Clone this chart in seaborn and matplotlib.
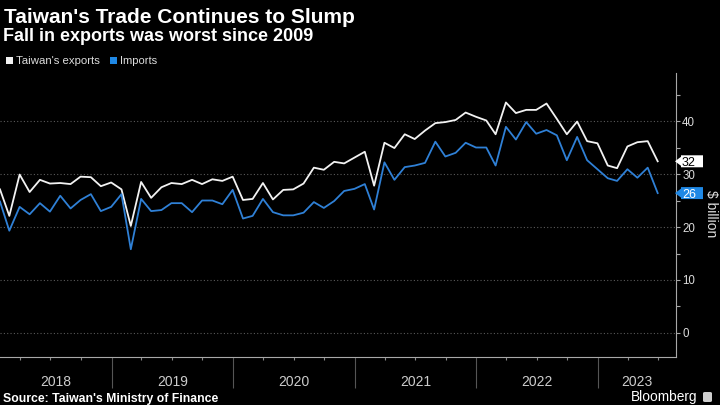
import numpy as np
import pandas as pd
import matplotlib
matplotlib.use("Agg")
import matplotlib.pyplot as plt
import matplotlib.dates as mdates
import matplotlib.transforms as mtrans
from matplotlib.patches import Polygon, Rectangle, FancyBboxPatch
import seaborn as sns

# ---------------- data (US$ billion, monthly, Jan 2018 - Jun 2023) ----------------
exports = [27.1, 22.1, 29.9, 26.6, 28.9, 28.2, 28.3, 28.1, 29.5, 29.4, 27.7, 28.4,
           27.1, 20.2, 28.5, 25.5, 27.5, 28.3, 28.1, 28.9, 28.1, 29.0, 28.7, 29.5,
           25.1, 25.3, 28.3, 25.2, 27.0, 27.1, 28.2, 31.2, 30.8, 32.3, 32.0, 33.1,
           34.2, 27.8, 35.9, 34.9, 37.5, 36.6, 38.2, 39.6, 39.8, 40.2, 41.6, 40.8,
           40.1, 37.5, 43.5, 41.5, 42.1, 42.1, 43.3, 40.4, 37.5, 39.9, 36.2, 35.8,
           31.6, 31.1, 35.2, 36.0, 36.2, 32.4]
imports = [24.8, 19.3, 23.8, 22.4, 24.5, 22.9, 25.9, 23.5, 25.1, 26.2, 23.0, 23.8,
           26.2, 15.8, 25.3, 23.0, 23.2, 24.5, 24.5, 22.8, 25.0, 25.0, 24.3, 27.0,
           21.6, 22.1, 25.3, 22.8, 22.2, 22.2, 22.7, 24.7, 23.6, 24.9, 26.8, 27.2,
           28.1, 23.3, 32.2, 28.9, 31.3, 31.6, 32.1, 36.1, 33.3, 34.0, 35.9, 35.0,
           35.0, 31.6, 38.9, 36.5, 39.8, 37.6, 38.3, 37.3, 32.6, 37.0, 32.6, 30.9,
           29.2, 28.7, 30.9, 29.3, 31.2, 26.4]
start_month = "2018-01-31"
series_names = ["Taiwan's exports", "Imports"]
year_labels = [2018, 2019, 2020, 2021, 2022, 2023]
y_major = [0, 10, 20, 30, 40]
y_minor = [5, 15, 25, 35, 45]

title = "Taiwan's Trade Continues to Slump"
subtitle = "Fall in exports was worst since 2009"
source = "Source: Taiwan's Ministry of Finance"
y_label = "\\$ billion"

# ---------------- style ----------------
WHITE = "#f2f2f2"
BLUE = "#2f80d6"
BOX_BLUE = "#1f88e5"
plt.rcParams["font.family"] = ["Liberation Sans", "DejaVu Sans"]

dates = pd.date_range(start_month, periods=len(exports), freq="ME")
df = pd.DataFrame({
    "date": list(dates) * 2,
    "value": exports + imports,
    "series": [series_names[0]] * len(exports) + [series_names[1]] * len(imports),
})

W, H = 720, 405
fig = plt.figure(figsize=(7.2, 4.05), dpi=100, facecolor="black")
ax_left, ax_right, ax_top, ax_bottom = 0, 676, 73, 357
ax = fig.add_axes([ax_left / W, 1 - ax_bottom / H, (ax_right - ax_left) / W, (ax_bottom - ax_top) / H])
ax.set_facecolor("black")

sns.lineplot(data=df, x="date", y="value", hue="series", hue_order=series_names,
             palette={series_names[0]: WHITE, series_names[1]: BLUE},
             linewidth=1.3, legend=False, ax=ax, zorder=3)

x0 = pd.Timestamp(start_month)
x1 = pd.Timestamp("2023-08-24")
ax.set_xlim(x0, x1)
ax.set_ylim(-4.53, 49.06)
ax.set_xlabel("")
ax.set_ylabel("")

for s in ["left", "top"]:
    ax.spines[s].set_visible(False)
for s in ["right", "bottom"]:
    ax.spines[s].set_color("#a8a8a8")
    ax.spines[s].set_linewidth(0.8)

# y axis on right
ax.yaxis.tick_right()
ax.set_yticks(y_major)
ax.set_yticks(y_minor, minor=True)
ax.set_yticklabels([str(v) for v in y_major])
ax.tick_params(axis="y", which="both", colors="#a8a8a8", labelcolor="#dddddd",
               length=3, width=0.8, pad=1.5, labelsize=8.3, left=False, right=True)
ax.grid(axis="y", which="major", color="#5a5a5a", linestyle=(0, (1, 2)), linewidth=0.8)
ax.grid(axis="x", visible=False)

# x axis: year separators + quarterly ticks
ax.xaxis.set_major_locator(mdates.YearLocator())
ax.xaxis.set_minor_locator(mdates.MonthLocator(bymonth=[4, 7, 10]))
ax.tick_params(axis="x", which="major", length=22, width=0.8, color="#555555", labelbottom=False)
ax.tick_params(axis="x", which="minor", length=2.5, width=0.8, color="#888888", labelbottom=False)

blend = mtrans.blended_transform_factory(ax.transData, ax.transAxes)
lo, hi = mdates.date2num(x0), mdates.date2num(x1)
for yr in year_labels:
    a = max(mdates.date2num(pd.Timestamp(f"{yr}-01-01")), lo)
    b = min(mdates.date2num(pd.Timestamp(f"{yr + 1}-01-01")), hi)
    ax.text((a + b) / 2, (ax_bottom - 386) / (ax_bottom - ax_top), str(yr), transform=blend,
            ha="center", va="baseline", color="#cccccc", fontsize=10)

# y label
fig.text(711 / W, 1 - 214 / H, y_label, rotation=270, ha="center", va="center",
         color="#dddddd", fontsize=10)

# end-value labels
fig.canvas.draw()
yblend = mtrans.blended_transform_factory(ax.transAxes, ax.transData)
for val, fc, tc in [(exports[-1], "#ffffff", "#000000"), (imports[-1], BOX_BLUE, "#ffffff")]:
    px, py = yblend.transform((1, val))
    verts = [(px - 1, py), (px + 5, py + 4.5), (px + 5, py + 6), (px + 27, py + 6),
             (px + 27, py - 6), (px + 5, py - 6), (px + 5, py - 4.5)]
    fig.add_artist(Polygon(verts, closed=True, facecolor=fc, edgecolor="none",
                           transform=mtrans.IdentityTransform(), zorder=10))
    fig.text((px + 6) / W, py / H, f"{val:.0f}", ha="left", va="center_baseline",
             color=tc, fontsize=9, zorder=11)

# ---------------- header / footer ----------------
renderer = fig.canvas.get_renderer()


def fit(t, target_px):
    bb = t.get_window_extent(renderer=renderer)
    t.set_fontsize(t.get_fontsize() * target_px / bb.width)


t1 = fig.text(4 / W, 1 - 23 / H, title, ha="left", va="baseline", color="white",
              fontsize=15, fontweight="bold")
fit(t1, 351)
t2 = fig.text(3 / W, 1 - 41 / H, subtitle, ha="left", va="baseline", color="white",
              fontsize=13, fontweight="bold")
fit(t2, 310)

# legend
fig.add_artist(Rectangle((6 / W, 1 - 63.5 / H), 7 / W, 7 / H, facecolor=WHITE, edgecolor="none",
                         transform=fig.transFigure))
fig.add_artist(Rectangle((110 / W, 1 - 63.5 / H), 7 / W, 7 / H, facecolor=BOX_BLUE, edgecolor="none",
                         transform=fig.transFigure))
l1 = fig.text(16 / W, 1 - 64 / H, series_names[0], ha="left", va="baseline", color="#dddddd", fontsize=8.5)
fit(l1, 83)
l2 = fig.text(120 / W, 1 - 64 / H, series_names[1], ha="left", va="baseline", color="#dddddd", fontsize=8.5)
fit(l2, 37)

s1 = fig.text(3 / W, 1 - 402 / H, source, ha="left", va="baseline", color="white",
              fontsize=8, fontweight="bold")
fit(s1, 216)
b1 = fig.text(631 / W, 1 - 401 / H, "Bloomberg", ha="left", va="baseline", color="white", fontsize=10)
fit(b1, 67)
fig.add_artist(FancyBboxPatch((703 / W, 1 - 402 / H), 9 / W, 10 / H,
                              boxstyle="round,pad=0,rounding_size=0.003",
                              facecolor="#cfcfcf", edgecolor="none", transform=fig.transFigure))

fig.savefig("out.png", dpi=100, facecolor="black")
